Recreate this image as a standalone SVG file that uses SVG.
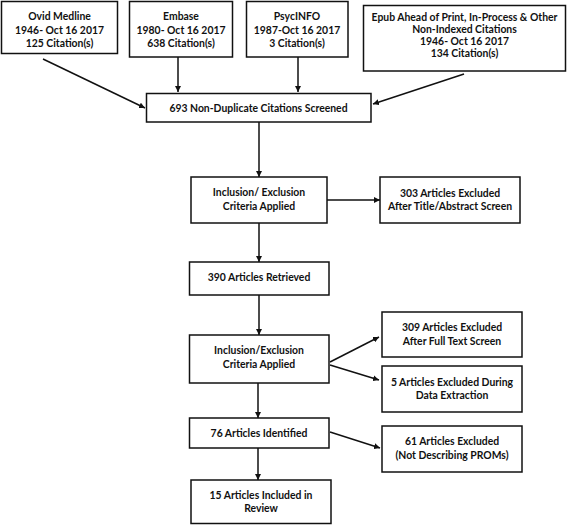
<svg xmlns="http://www.w3.org/2000/svg" width="568" height="525" viewBox="0 0 568 525">
<defs>
<style>
.box{fill:#fff;stroke:#111;stroke-width:1.5}
.t{font-family:Lato,"Open Sans","Liberation Sans",sans-serif;font-size:10.4px;font-weight:bold;fill:#111;text-anchor:middle}
.c{stroke:#111;stroke-width:1.5;fill:none;marker-end:url(#ah)}
</style>
<marker id="ah" viewBox="0 0 10 10" refX="10" refY="5" markerWidth="6" markerHeight="6" markerUnits="userSpaceOnUse" orient="auto">
<path d="M0,0 L10,5 L0,10 z" fill="#111"/>
</marker>
</defs>
<rect width="568" height="525" fill="#fff"/>
<g id="connectors">
<line class="c" x1="43" y1="59" x2="145" y2="108"/>
<line class="c" x1="178" y1="57" x2="178" y2="92"/>
<line class="c" x1="298" y1="57" x2="298" y2="92"/>
<line class="c" x1="464" y1="74" x2="373" y2="104"/>
<line class="c" x1="259" y1="122" x2="259" y2="177"/>
<line class="c" x1="327" y1="200" x2="380" y2="200"/>
<line class="c" x1="259" y1="223" x2="259" y2="262"/>
<line class="c" x1="259" y1="295" x2="259" y2="335"/>
<line class="c" x1="330" y1="362" x2="379" y2="337"/>
<line class="c" x1="330" y1="365" x2="379" y2="380"/>
<line class="c" x1="258" y1="383" x2="258" y2="418"/>
<line class="c" x1="330" y1="432" x2="380" y2="448"/>
<line class="c" x1="258" y1="448" x2="258" y2="480"/>
</g>
<g id="ovid">
<rect class="box" x="1.5" y="1.5" width="116" height="52"/>
<text class="t" x="59.5" y="20">Ovid Medline</text>
<text class="t" x="59.5" y="34">1946- Oct 16 2017</text>
<text class="t" x="59.5" y="47">125 Citation(s)</text>
</g>
<g id="embase">
<rect class="box" x="129.5" y="1.5" width="103" height="55.5"/>
<text class="t" x="181" y="20">Embase</text>
<text class="t" x="181" y="34">1980- Oct 16 2017</text>
<text class="t" x="181" y="47">638 Citation(s)</text>
</g>
<g id="psycinfo">
<rect class="box" x="246.5" y="1.5" width="101.5" height="55.5"/>
<text class="t" x="297" y="20">PsycINFO</text>
<text class="t" x="297" y="34">1987-Oct 16 2017</text>
<text class="t" x="297" y="47">3 Citation(s)</text>
</g>
<g id="epub">
<rect class="box" x="363.5" y="5.5" width="202" height="65.5"/>
<text class="t" x="464.5" y="21">Epub Ahead of Print, In-Process &amp; Other</text>
<text class="t" x="464.5" y="33">Non-Indexed Citations</text>
<text class="t" x="464.5" y="45">1946- Oct 16 2017</text>
<text class="t" x="464.5" y="57">134 Citation(s)</text>
</g>
<g id="screened">
<rect class="box" x="146.5" y="93.5" width="224.5" height="28.5"/>
<text class="t" x="258.5" y="112">693 Non-Duplicate Citations Screened</text>
</g>
<g id="incl1">
<rect class="box" x="191" y="177" width="136" height="46"/>
<text class="t" x="259" y="196">Inclusion/ Exclusion</text>
<text class="t" x="259" y="210">Criteria Applied</text>
</g>
<g id="excl303">
<rect class="box" x="380" y="177" width="140" height="46"/>
<text class="t" x="450" y="197">303 Articles Excluded</text>
<text class="t" x="450" y="210">After Title/Abstract Screen</text>
</g>
<g id="retrieved">
<rect class="box" x="189.5" y="262" width="139.5" height="33"/>
<text class="t" x="259" y="281">390 Articles Retrieved</text>
</g>
<g id="incl2">
<rect class="box" x="189.5" y="335" width="139.5" height="48"/>
<text class="t" x="259" y="354">Inclusion/Exclusion</text>
<text class="t" x="259" y="368">Criteria Applied</text>
</g>
<g id="excl309">
<rect class="box" x="382" y="312" width="140" height="45"/>
<text class="t" x="452" y="331">309 Articles Excluded</text>
<text class="t" x="452" y="345">After Full Text Screen</text>
</g>
<g id="excl5">
<rect class="box" x="382" y="366" width="140" height="46"/>
<text class="t" x="452" y="386">5 Articles Excluded During</text>
<text class="t" x="452" y="399">Data Extraction</text>
</g>
<g id="identified">
<rect class="box" x="189.5" y="418" width="139.5" height="30"/>
<text class="t" x="259" y="437">76 Articles Identified</text>
</g>
<g id="excl61">
<rect class="box" x="382" y="426" width="140" height="46"/>
<text class="t" x="452" y="445">61 Articles Excluded</text>
<text class="t" x="452" y="459">(Not Describing PROMs)</text>
</g>
<g id="included">
<rect class="box" x="191" y="480" width="140" height="43.5"/>
<text class="t" x="261" y="499">15 Articles Included in</text>
<text class="t" x="261" y="512">Review</text>
</g>
</svg>
